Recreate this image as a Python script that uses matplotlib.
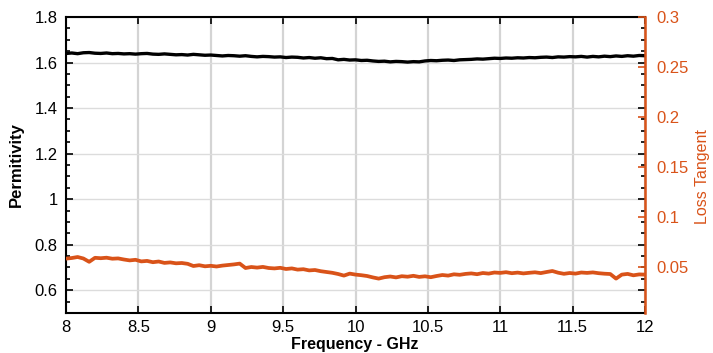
import numpy as np
import matplotlib
matplotlib.use("Agg")
import matplotlib.pyplot as plt
from matplotlib.ticker import MultipleLocator, FormatStrFormatter

plt.rcParams['font.family'] = ['Liberation Sans', 'DejaVu Sans']

# Frequency grid (GHz), 8 to 12 in 0.04 steps
freq = np.linspace(8, 12, 101)

# Permittivity
permittivity = [
    1.640, 1.642, 1.639, 1.643, 1.644, 1.641, 1.640, 1.642, 1.639, 1.640,
    1.638, 1.639, 1.637, 1.639, 1.640, 1.637, 1.636, 1.638, 1.636, 1.634,
    1.635, 1.633, 1.636, 1.634, 1.632, 1.633, 1.631, 1.629, 1.631, 1.630,
    1.628, 1.630, 1.627, 1.625, 1.627, 1.626, 1.624, 1.625, 1.622, 1.624,
    1.623, 1.620, 1.622, 1.619, 1.621, 1.617, 1.618, 1.612, 1.614, 1.611,
    1.612, 1.609, 1.610, 1.607, 1.605, 1.606, 1.603, 1.605, 1.604, 1.602,
    1.604, 1.603, 1.607, 1.609, 1.608, 1.610, 1.611, 1.609, 1.612, 1.613,
    1.614, 1.616, 1.615, 1.617, 1.619, 1.618, 1.620, 1.619, 1.621, 1.620,
    1.622, 1.621, 1.623, 1.624, 1.622, 1.625, 1.624, 1.626, 1.625, 1.627,
    1.624, 1.627, 1.625, 1.628, 1.626, 1.629, 1.627, 1.630, 1.628, 1.631, 1.630,
]

# Loss tangent
loss_tangent = [
    0.0584, 0.0590, 0.0600, 0.0585, 0.0552, 0.0592, 0.0588, 0.0593, 0.0583, 0.0586,
    0.0575, 0.0566, 0.0572, 0.0556, 0.0561, 0.0548, 0.0555, 0.0541, 0.0546, 0.0537,
    0.0540, 0.0532, 0.0510, 0.0518, 0.0507, 0.0512, 0.0505, 0.0514, 0.0520, 0.0526,
    0.0534, 0.0490, 0.0500, 0.0494, 0.0501, 0.0490, 0.0486, 0.0492, 0.0480, 0.0486,
    0.0474, 0.0478, 0.0466, 0.0470, 0.0458, 0.0450, 0.0442, 0.0430, 0.0414, 0.0434,
    0.0424, 0.0418, 0.0410, 0.0396, 0.0384, 0.0398, 0.0405, 0.0396, 0.0408, 0.0403,
    0.0412, 0.0401, 0.0407, 0.0398, 0.0410, 0.0420, 0.0414, 0.0427, 0.0422, 0.0431,
    0.0436, 0.0428, 0.0440, 0.0434, 0.0445, 0.0441, 0.0448, 0.0438, 0.0444, 0.0436,
    0.0442, 0.0447, 0.0439, 0.0450, 0.0460, 0.0443, 0.0432, 0.0440, 0.0434, 0.0445,
    0.0441, 0.0446, 0.0438, 0.0433, 0.0430, 0.0384, 0.0424, 0.0431, 0.0417, 0.0426, 0.0424,
]

orange = '#D95319'

fig = plt.figure(figsize=(7.13, 3.53), dpi=100)
ax1 = fig.add_axes([0.0926, 0.1133, 0.812, 0.8385])
ax2 = ax1.twinx()

ax1.plot(freq, permittivity, color='black', linewidth=2.4)
ax2.plot(freq, loss_tangent, color=orange, linewidth=2.7)

ax1.set_xlim(8, 12)
ax1.set_ylim(0.5, 1.8)
ax2.set_ylim(0.004, 0.3)

ax1.xaxis.set_major_locator(MultipleLocator(0.5))
ax1.yaxis.set_major_locator(MultipleLocator(0.2))
ax1.yaxis.set_minor_locator(MultipleLocator(0.05))
ax2.yaxis.set_major_locator(MultipleLocator(0.05))
ax1.xaxis.set_major_formatter(FormatStrFormatter('%g'))
ax1.yaxis.set_major_formatter(FormatStrFormatter('%g'))
ax2.yaxis.set_major_formatter(FormatStrFormatter('%g'))

ax1.xaxis.grid(True, color='#d4d4d4', linewidth=1.6)
ax1.yaxis.grid(True, color='#dcdcdc', linewidth=1.0)
ax1.set_axisbelow(True)

ax1.tick_params(axis='both', which='both', direction='in', top=True, right=True,
                labelsize=12, color='black', width=1.2)
ax1.tick_params(axis='both', which='major', length=5, pad=6)
ax1.tick_params(axis='x', which='major', pad=5)
ax1.tick_params(axis='y', which='minor', length=3)
ax2.tick_params(axis='y', direction='in', colors=orange, labelsize=12,
                length=5, width=1.2, pad=8)

for s in ['left', 'bottom', 'top']:
    ax1.spines[s].set_linewidth(1.5)
ax2.spines['right'].set_color(orange)
ax2.spines['right'].set_linewidth(1.8)
for s in ['left', 'bottom', 'top']:
    ax2.spines[s].set_visible(False)

ax1.set_ylabel('Permitivity', fontsize=12, fontweight='bold', labelpad=8)
fig.text(703 / 713, 0.5, 'Loss Tangent', fontsize=11.5, color=orange,
         rotation=90, ha='center', va='center')
fig.text(0.498, 0.024, 'Frequency - GHz', fontsize=11.5, fontweight='bold',
         ha='center', va='center')

fig.savefig('out.png', dpi=100)
